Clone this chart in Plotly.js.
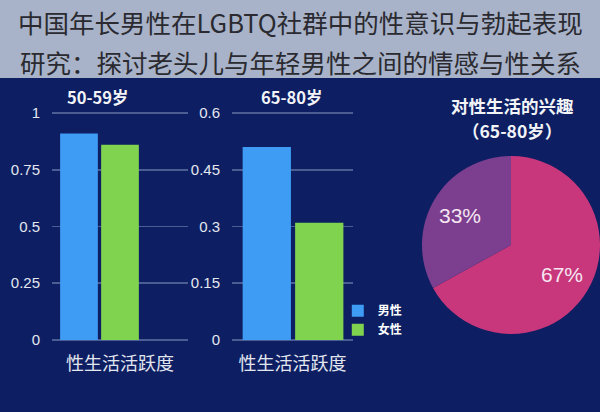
<!DOCTYPE html>
<html>
<head>
<meta charset="utf-8">
<script src="https://cdn.plot.ly/plotly-3.0.1.min.js"></script>
<style>html,body{margin:0;padding:0;background:#0d1f62;}#chart{width:600px;height:412px;}</style>
</head>
<body>
<div id="chart"></div>
<script>
// ---- data ----
const titleLines = ["中国年长男性在LGBTQ社群中的性意识与勃起表现", "研究：探讨老头儿与年轻男性之间的情感与性关系"];
const category = ["性生活活跃度"];
const seriesNames = ["男性", "女性"];
const group1Title = "50-59岁";
const group1Male = [0.91];
const group1Female = [0.86];
const group1Ticks = [0, 0.25, 0.5, 0.75, 1];
const group1TickText = ["0", "0.25", "0.5", "0.75", "1"];
const group2Title = "65-80岁";
const group2Male = [0.51];
const group2Female = [0.31];
const group2Ticks = [0, 0.15, 0.3, 0.45, 0.6];
const group2TickText = ["0", "0.15", "0.3", "0.45", "0.6"];
const pieTitleLines = ["对性生活的兴趣", "（65-80岁）"];
const pieLabels = ["有兴趣", "无兴趣"];
const pieValues = [67, 33];

// ---- styles ----
const NAVY = "#0d1f62";
const BLUE = "#3f9cf5";
const GREEN = "#7fd34f";
const GRID = "#4c5d93";
const TXT = "#e3e6ef";
const CJK = "'Noto Sans CJK SC', 'Noto Sans', sans-serif";
const LAT = "'Liberation Sans', Arial, sans-serif";

// pie geometry (domain in paper fractions)
const pieDom = {x: [0.7033, 1], y: [0.1845, 0.6262]};

const traces = [
  {type: "bar", x: category, y: group1Male, name: seriesNames[0], marker: {color: BLUE}, xaxis: "x", yaxis: "y", legendgroup: "m", showlegend: false, hoverinfo: "y"},
  {type: "bar", x: category, y: group1Female, name: seriesNames[1], marker: {color: GREEN}, xaxis: "x", yaxis: "y", legendgroup: "f", showlegend: false, hoverinfo: "y"},
  {type: "bar", x: category, y: group2Male, name: seriesNames[0], marker: {color: BLUE}, xaxis: "x2", yaxis: "y2", legendgroup: "m", showlegend: true, hoverinfo: "y"},
  {type: "bar", x: category, y: group2Female, name: seriesNames[1], marker: {color: GREEN}, xaxis: "x2", yaxis: "y2", legendgroup: "f", showlegend: true, hoverinfo: "y"},
  {type: "pie", labels: pieLabels, values: pieValues, sort: false, direction: "clockwise", rotation: 0,
   domain: pieDom,
   marker: {colors: ["#c8367b", "#7c3f8f"], line: {width: 0}},
   textinfo: "none", showlegend: false, hoverinfo: "label+percent"}
];

// percent labels placed along each slice's mid-angle
const W = 600, H = 412;
const cx = (pieDom.x[0] + pieDom.x[1]) / 2 * W;
const cyTop = (1 - (pieDom.y[0] + pieDom.y[1]) / 2) * H;
const rad = Math.min((pieDom.x[1] - pieDom.x[0]) * W, (pieDom.y[1] - pieDom.y[0]) * H) / 2;
const total = pieValues.reduce((a, b) => a + b, 0);
const pieAnnots = [];
let acc = 0;
pieValues.forEach(v => {
  const mid = (acc + v / 2) / total * 2 * Math.PI;
  acc += v;
  const px = cx + Math.sin(mid) * rad * 0.66;
  const py = cyTop - Math.cos(mid) * rad * 0.66;
  pieAnnots.push({text: Math.round(v / total * 100) + "%", xref: "paper", yref: "paper", x: px / W, y: 1 - py / H,
    xanchor: "center", yanchor: "middle", showarrow: false, font: {family: LAT, size: 21, color: "#f6e6f2"}});
});

const yBase = {domain: [0.1638, 0.7367], showgrid: true, gridcolor: GRID, gridwidth: 1.5, zeroline: false,
  showline: false, ticks: "", tickfont: {family: LAT, size: 15, color: TXT}, ticklabelstandoff: 11, fixedrange: true};
const xBase = {type: "category", showticklabels: false, showgrid: false, zeroline: false, showline: false, ticks: "",
  title: {text: category[0], font: {family: CJK, size: 18, color: TXT}, standoff: 12}, fixedrange: true};

const layout = {
  width: W, height: H,
  margin: {l: 0, r: 0, t: 0, b: 0},
  paper_bgcolor: NAVY, plot_bgcolor: "rgba(0,0,0,0)",
  barmode: "group", bargap: 0.2, bargroupgap: 0.08,
  xaxis: Object.assign({}, xBase, {domain: [0.0867, 0.3133], range: [-0.463, 0.863], anchor: "y"}),
  yaxis: Object.assign({}, yBase, {range: [-0.02, 1.02], tickvals: group1Ticks, ticktext: group1TickText, anchor: "x"}),
  xaxis2: Object.assign({}, xBase, {domain: [0.3867, 0.5883], range: [-0.465, 0.457], anchor: "y2"}),
  yaxis2: Object.assign({}, yBase, {range: [-0.012, 0.612], tickvals: group2Ticks, ticktext: group2TickText, anchor: "x2"}),
  legend: {x: 0.563, y: 0.281, xanchor: "left", yanchor: "top", bgcolor: "rgba(0,0,0,0)",
    font: {family: CJK, size: 12, color: "#ffffff", weight: "bold"}, itemwidth: 30, tracegroupgap: 0, traceorder: "normal"},
  shapes: [{type: "rect", xref: "paper", yref: "paper", x0: 0, x1: 1, y0: 1 - 78 / 412, y1: 1, fillcolor: "#a8b2c8", line: {width: 0}, layer: "below"}],
  annotations: [
    {text: titleLines[0], xref: "paper", yref: "paper", x: 0.5, y: 1 - 22 / 412, xanchor: "center", yanchor: "middle", showarrow: false, font: {family: CJK, size: 25.5, color: "#2a2a30"}},
    {text: titleLines[1], xref: "paper", yref: "paper", x: 0.5, y: 1 - 61 / 412, xanchor: "center", yanchor: "middle", showarrow: false, font: {family: CJK, size: 25.5, color: "#2a2a30"}},
    {text: group1Title, xref: "paper", yref: "paper", x: 98 / 600, y: 1 - 97 / 412, xanchor: "center", yanchor: "middle", showarrow: false, font: {family: CJK, size: 16.5, color: "#f2f4f8", weight: "bold"}},
    {text: group2Title, xref: "paper", yref: "paper", x: 292 / 600, y: 1 - 97 / 412, xanchor: "center", yanchor: "middle", showarrow: false, font: {family: CJK, size: 16.5, color: "#f2f4f8", weight: "bold"}},
    {text: pieTitleLines[0], xref: "paper", yref: "paper", x: 512 / 600, y: 1 - 105 / 412, xanchor: "center", yanchor: "middle", showarrow: false, font: {family: CJK, size: 17.5, color: "#f2f4f8", weight: "bold"}},
    {text: pieTitleLines[1], xref: "paper", yref: "paper", x: 512 / 600, y: 1 - 130 / 412, xanchor: "center", yanchor: "middle", showarrow: false, font: {family: CJK, size: 17.5, color: "#f2f4f8", weight: "bold"}}
  ].concat(pieAnnots)
};

Plotly.newPlot("chart", traces, layout, {displayModeBar: false, staticPlot: true});
</script>
</body>
</html>
